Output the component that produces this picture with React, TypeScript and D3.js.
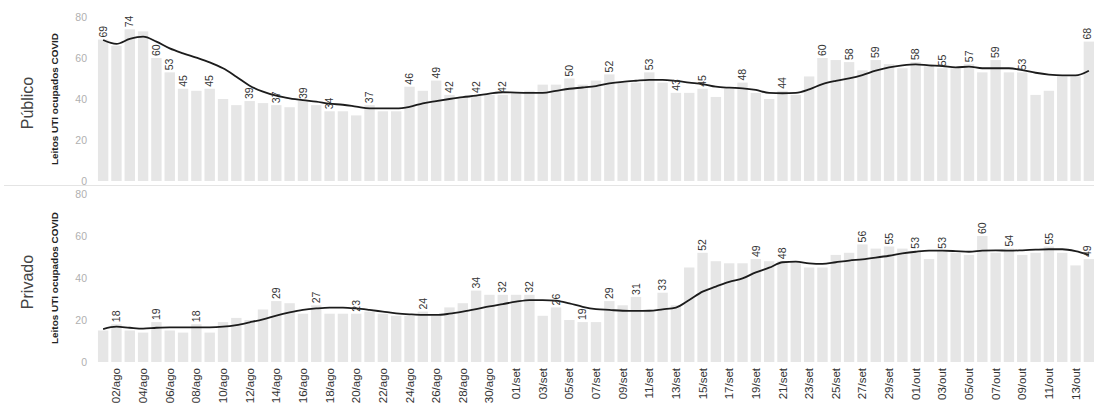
import React from "react";
import * as d3 from "d3";

const monthAbbr = ["jan", "fev", "mar", "abr", "mai", "jun", "jul", "ago", "set", "out", "nov", "dez"];
const dates: Date[] = d3.timeDay.range(new Date(2020, 7, 1), new Date(2020, 9, 15));
const categories: string[] = dates.map((d) => d3.timeFormat("%d")(d) + "/" + monthAbbr[d.getMonth()]);

const yTicks = [0, 20, 40, 60, 80];

const publicoValues = [
  69, 66, 74, 73, 60, 53, 45, 44, 45, 40, 37, 39, 38, 37, 36, 39, 37, 34, 34, 32,
  37, 34, 34, 46, 44, 49, 42, 41, 42, 42, 42, 43, 44, 47, 47, 50, 47, 49, 52, 48,
  48, 53, 48, 43, 43, 45, 41, 45, 48, 43, 40, 44, 42, 51, 60, 59, 58, 54, 59, 57,
  55, 58, 56, 55, 55, 57, 53, 59, 53, 53, 42, 44, 51, 51, 68,
];
const publicoTrend = [
  68.8, 66.9, 69.3, 70.4, 68, 64.7, 62.3, 60.2, 57.9, 55, 50.9, 46.5, 43.6, 41.6, 40.3, 39.4, 38.7, 37.7, 37.2, 36.3,
  35.4, 35.4, 35.4, 36.2, 37.9, 39, 40, 40.9, 41.6, 42.6, 43.3, 43.1, 43, 43, 44, 45, 45.6, 46.3, 47.6, 48.4,
  48.9, 49.3, 49.3, 48.8, 48, 47.3, 46, 45.5, 45.2, 44.4, 43, 42.8, 43, 44.7, 47.3, 48.9, 50.1, 51.7, 53.8, 55.4,
  56.4, 56.9, 56.4, 56.1, 55.4, 55.8, 55, 55, 55, 54.1, 52.8, 51.9, 51.5, 51.5, 53.8,
];
const publicoLabelIdx = [0, 2, 4, 5, 6, 8, 11, 13, 15, 17, 20, 23, 25, 26, 28, 30, 35, 38, 41, 43, 45, 48, 51, 54, 56, 58, 61, 63, 65, 67, 69, 74];

const privadoValues = [
  15, 18, 15, 14, 19, 15, 14, 18, 14, 19, 21, 20, 25, 29, 28, 23, 27, 23, 23, 23,
  24, 23, 22, 22, 24, 22, 26, 28, 34, 32, 32, 32, 32, 22, 26, 20, 19, 19, 29, 27,
  31, 24, 33, 27, 45, 52, 48, 47, 47, 49, 48, 48, 48, 45, 45, 51, 52, 56, 54, 55,
  54, 53, 49, 53, 52, 51, 60, 52, 54, 51, 52, 55, 52, 46, 49,
];
const privadoTrend = [
  15.7, 16.8, 16.3, 15.9, 16.3, 16.5, 16.5, 16.5, 16.5, 16.8, 17.6, 18.9, 20.3, 22.1, 23.6, 24.8, 25.5, 25.9, 25.9, 25.5,
  24.8, 24, 23.2, 22.7, 22.4, 22.4, 23, 24, 25.2, 26.5, 27.6, 28.7, 29.5, 29.5, 29.2, 27.9, 26.3, 25.2, 24.8, 24.4,
  24.3, 24.4, 25.1, 25.9, 29.5, 33.5, 35.9, 38.2, 39.8, 42.7, 44.9, 47.5, 47.8, 47, 46.7, 47.5, 48.3, 48.9, 49.7, 50.6,
  51.7, 52.5, 53, 53, 52.8, 52.5, 53, 53.2, 53, 53.2, 53.5, 53.7, 53.7, 52.8, 51,
];
const privadoLabelIdx = [1, 4, 7, 13, 16, 19, 24, 28, 30, 32, 34, 36, 38, 40, 42, 45, 49, 51, 57, 59, 61, 63, 66, 68, 71, 74];

const W = 1094;
const H = 407;
const FONT = "'Liberation Sans', Arial, sans-serif";

const x = d3.scaleBand<string>().domain(categories).range([95, 1097]).padding(0.22);
const cx = (i: number) => (x(categories[i]) as number) + x.bandwidth() / 2;

type PanelProps = {
  title: string;
  values: number[];
  trend: number[];
  labelIdx: number[];
  y0: number;
  y80: number;
};

function Panel({ title, values, trend, labelIdx, y0, y80 }: PanelProps) {
  const y = d3.scaleLinear().domain([0, 80]).range([y0, y80]);
  const line = d3
    .line<number>()
    .x((_, i) => cx(i))
    .y((v) => y(v))
    .curve(d3.curveMonotoneX);
  const mid = (y0 + y80) / 2;
  return (
    <g>
      <text
        transform={`translate(33,${mid + 4}) rotate(-90)`}
        textAnchor="middle"
        fontFamily={FONT}
        fontSize={16}
        fill="#444"
      >
        {title}
      </text>
      <text
        transform={`translate(58,${mid}) rotate(-90)`}
        textAnchor="middle"
        fontFamily={FONT}
        fontSize={9.5}
        fontWeight="bold"
        fill="#222"
        textLength={132}
        lengthAdjust="spacingAndGlyphs"
      >
        Leitos UTI ocupados COVID
      </text>
      {yTicks.map((t) => (
        <text
          key={t}
          x={87}
          y={y(t)}
          dy="0.35em"
          textAnchor="end"
          fontFamily={FONT}
          fontSize={10.5}
          fill="#b0b0b0"
        >
          {t}
        </text>
      ))}
      {values.map((v, i) => (
        <rect
          key={i}
          x={x(categories[i]) as number}
          y={y(v)}
          width={x.bandwidth()}
          height={y(0) - y(v)}
          fill="#e6e6e6"
        />
      ))}
      <path d={line(trend) || ""} fill="none" stroke="#1c1c1c" strokeWidth={1.8} />
      {labelIdx.map((i) => (
        <text
          key={i}
          transform={`translate(${Math.min(cx(i), W - 7)},${y(values[i]) - 2}) rotate(-90)`}
          dy="0.35em"
          textAnchor="start"
          fontFamily={FONT}
          fontSize={10.5}
          fill="#333"
        >
          {values[i]}
        </text>
      ))}
    </g>
  );
}

export default function App() {
  return (
    <svg
      width={W}
      height={H}
      viewBox={`0 0 ${W} ${H}`}
      style={{ position: "absolute", left: 0, top: 0, background: "#fff" }}
    >
      <rect width={W} height={H} fill="#fff" />
      <Panel title="Público" values={publicoValues} trend={publicoTrend} labelIdx={publicoLabelIdx} y0={181} y80={17} />
      <line x1={4} x2={W} y1={185.5} y2={185.5} stroke="#e4e4e4" strokeWidth={1} />
      <Panel title="Privado" values={privadoValues} trend={privadoTrend} labelIdx={privadoLabelIdx} y0={362} y80={194} />
      {categories.map((c, i) =>
        i % 2 === 1 ? (
          <text
            key={c}
            transform={`translate(${cx(i)},368) rotate(-90)`}
            dy="0.35em"
            textAnchor="end"
            fontFamily={FONT}
            fontSize={11.5}
            fill="#333"
          >
            {c}
          </text>
        ) : null
      )}
    </svg>
  );
}
